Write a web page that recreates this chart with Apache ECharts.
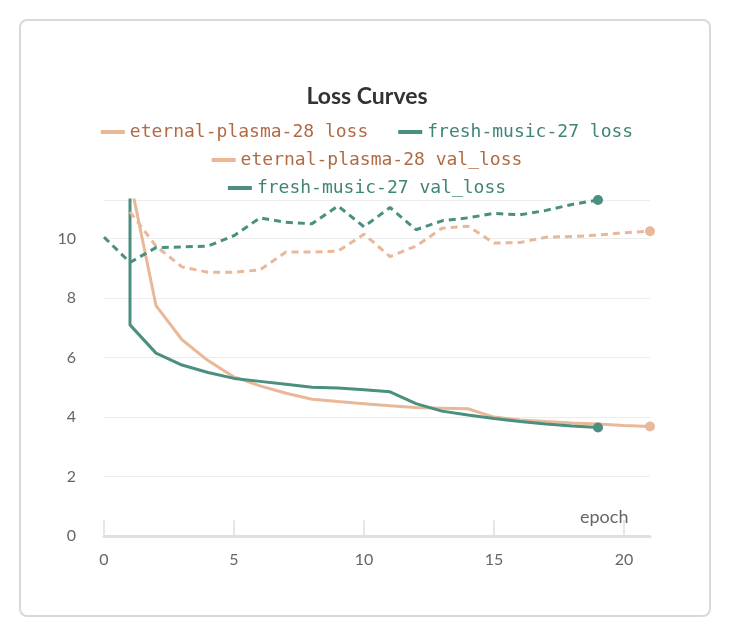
<!DOCTYPE html>
<html>
<head>
<meta charset="utf-8" />
<title>Loss Curves</title>
<script src="https://cdn.jsdelivr.net/npm/echarts@6/dist/echarts.min.js"></script>
<style>
  body { margin: 0; background: #fff; }
  #card { position: absolute; left: 19px; top: 19px; width: 692px; height: 598px;
          border: 2px solid #d9d9d9; border-radius: 8px; box-sizing: border-box; }
  #chart { position: absolute; left: 0; top: 0; width: 734px; height: 644px; }
</style>
</head>
<body>
<div id="card"></div>
<div id="chart"></div>
<script>
var orangeLoss = [[1, 12], [2, 7.75], [3, 6.6], [4, 5.9], [5, 5.35], [6, 5.05], [7, 4.8], [8, 4.6], [9, 4.52], [10, 4.45], [11, 4.38], [12, 4.32], [13, 4.3], [14, 4.28], [15, 4.0], [16, 3.9], [17, 3.85], [18, 3.8], [19, 3.77], [20, 3.72], [21, 3.68]];
var greenLoss = [[1, 40], [1, 7.1], [2, 6.15], [3, 5.75], [4, 5.5], [5, 5.3], [6, 5.2], [7, 5.1], [8, 5.0], [9, 4.98], [10, 4.92], [11, 4.85], [12, 4.45], [13, 4.2], [14, 4.07], [15, 3.95], [16, 3.85], [17, 3.77], [18, 3.7], [19, 3.65]];
var orangeVal = [[1, 10.9], [2, 9.75], [3, 9.05], [4, 8.87], [5, 8.87], [6, 8.95], [7, 9.55], [8, 9.55], [9, 9.58], [10, 10.15], [11, 9.4], [12, 9.75], [13, 10.35], [14, 10.42], [15, 9.85], [16, 9.87], [17, 10.05], [18, 10.07], [19, 10.12], [20, 10.2], [21, 10.25]];
var greenVal = [[0, 10.05], [1, 9.2], [2, 9.7], [3, 9.72], [4, 9.75], [5, 10.1], [6, 10.7], [7, 10.55], [8, 10.5], [9, 11.1], [10, 10.4], [11, 11.05], [12, 10.3], [13, 10.6], [14, 10.7], [15, 10.85], [16, 10.8], [17, 10.95], [18, 11.15], [19, 11.3]];

var ORANGE = '#e8b898', GREEN = '#4a8f7f';
var ORANGE_TXT = '#b06a44', GREEN_TXT = '#3f8577';

function lastPoint(arr, color) {
  var p = arr[arr.length - 1];
  return { data: [{ coord: p, value: '' }], symbol: 'circle', symbolSize: 10,
           itemStyle: { color: color }, label: { show: false } };
}

function series(name, data, color, dashed) {
  return {
    name: name, type: 'line', data: data, showSymbol: false, clip: true,
    lineStyle: { color: color, width: 3, type: dashed ? [7, 5] : 'solid' },
    itemStyle: { color: color },
    markPoint: lastPoint(data, color)
  };
}

function legend(top, names) {
  return {
    top: top, left: 'center', itemGap: 30, itemWidth: 24, itemHeight: 4, icon: 'rect',
    textStyle: { fontFamily: 'DejaVu Sans Mono', fontSize: 18 },
    data: names.map(function (n) {
      return { name: n, textStyle: { color: n.indexOf('eternal') === 0 ? ORANGE_TXT : GREEN_TXT } };
    })
  };
}

var chart = echarts.init(document.getElementById('chart'));
chart.setOption({
  animation: false,
  title: { text: 'Loss Curves', left: 'center', top: 80,
           textStyle: { fontFamily: 'Lato', fontSize: 23, fontWeight: 'bold', color: '#333' } },
  legend: [
    legend(118, ['eternal-plasma-28 loss', 'fresh-music-27 loss']),
    legend(146, ['eternal-plasma-28 val_loss']),
    legend(174, ['fresh-music-27 val_loss'])
  ],
  grid: { left: 104, right: 84, top: 200, bottom: 108 },
  xAxis: {
    type: 'value', min: 0, max: 21, interval: 5,
    axisLine: { lineStyle: { color: '#e0e0e0', width: 3 } },
    axisTick: { show: true, length: 16, inside: true, lineStyle: { color: '#e0e0e0', width: 1.5 } },
    axisLabel: { color: '#666', fontSize: 16, fontFamily: 'Lato', margin: 16, showMaxLabel: false },
    splitLine: { show: false }
  },
  yAxis: {
    type: 'value', min: 0, max: 11.3, interval: 2,
    axisLine: { show: false }, axisTick: { show: false },
    axisLabel: { color: '#666', fontSize: 16, fontFamily: 'Lato', margin: 28, showMaxLabel: false },
    splitLine: { lineStyle: { color: '#ececec' } }
  },
  graphic: [{
    type: 'text', left: 580, top: 508,
    style: { text: 'epoch', fill: '#666', font: '18px Lato' }
  }],
  series: [
    series('eternal-plasma-28 loss', orangeLoss, ORANGE, false),
    series('fresh-music-27 loss', greenLoss, GREEN, false),
    series('eternal-plasma-28 val_loss', orangeVal, ORANGE, true),
    series('fresh-music-27 val_loss', greenVal, GREEN, true)
  ]
});
</script>
</body>
</html>
